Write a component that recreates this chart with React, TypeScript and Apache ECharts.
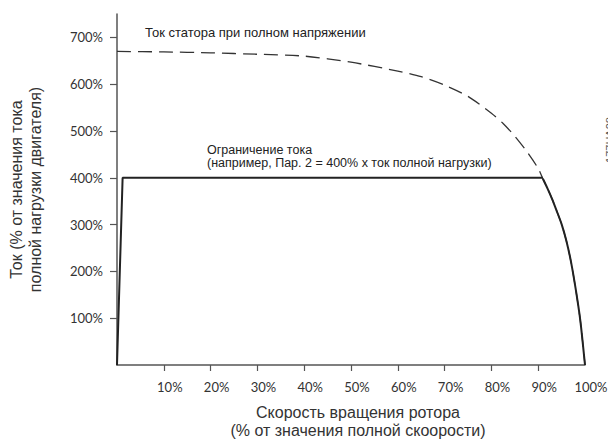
import React, { useEffect, useRef } from "react";
import * as echarts from "echarts";

const statorX = [0, 10, 20, 30, 40, 50, 60, 65, 70, 75, 80, 82.5, 85, 87.5, 90, 91, 92, 93, 94, 95, 96, 97, 98, 99, 100];
const statorY = [670, 669, 667, 664, 660, 647, 628, 616, 598, 574, 538, 516, 489, 457, 420, 398, 377, 354, 328, 301, 266, 221, 163, 95, 0];
const limitX = [0, 1.2, 91];
const limitY = [0, 400, 400];
const xTickValues = [10, 20, 30, 40, 50, 60, 70, 80, 90];
const xLabelValues = [10, 20, 30, 40, 50, 60, 70, 80, 90, 100];
const yTickValues = [100, 200, 300, 400, 500, 600, 700];

const statorLabel = "Ток статора при полном напряжении";
const limitLabel1 = "Ограничение тока";
const limitLabel2 = "(например, Пар. 2 = 400% x ток полной нагрузки)";
const xName = "Скорость вращения ротора\n(% от значения полной скоорости)";
const yName = "Ток (% от значения тока\nполной нагрузки двигателя)";
const code = "177HA28";

export default function App() {
  const ref = useRef<HTMLDivElement>(null);
  useEffect(() => {
    if (!ref.current) return;
    const chart = echarts.init(ref.current, undefined, { renderer: "svg" });
    const statorData = statorX.map((x, i) => [x, statorY[i]]);
    const limitData = limitX.map((x, i) => [x, limitY[i]]);
    const descentData = statorData.filter((p) => p[0] >= 91);
    const axisColor = "#555";
    const labelFont = { fontFamily: "Lato", fontSize: 13, color: "#333" };
    chart.setOption({
      animation: false,
      backgroundColor: "#fff",
      grid: { left: 109, right: 31, top: 6, bottom: 75, containLabel: false, outerBoundsMode: "none" },
      xAxis: {
        type: "value",
        min: 0,
        max: 100,
        interval: 10,
        name: xName,
        nameLocation: "middle",
        nameGap: 38,
        nameTextStyle: { fontFamily: "Liberation Sans", fontSize: 16, color: "#333", lineHeight: 18, padding: [0, 0, 0, 14] },
        axisLine: { show: true, lineStyle: { color: axisColor, width: 1.5 } },
        axisTick: { show: true, length: 6, customValues: xTickValues, lineStyle: { color: axisColor, width: 1.2 } },
        axisLabel: {
          customValues: xLabelValues,
          formatter: (v: number) => v + "%",
          margin: 15,
          padding: [0, 0, 0, 12],
          ...labelFont,
        },
        splitLine: { show: false },
      },
      yAxis: {
        type: "value",
        min: 0,
        max: 750,
        interval: 100,
        name: yName,
        nameLocation: "middle",
        nameGap: 72,
        nameTextStyle: { fontFamily: "Liberation Sans", fontSize: 16, color: "#333", lineHeight: 19 },
        axisLine: { show: true, lineStyle: { color: axisColor, width: 1.5 } },
        axisTick: { show: true, length: 7, customValues: yTickValues, lineStyle: { color: axisColor, width: 1.2 } },
        axisLabel: {
          customValues: yTickValues,
          formatter: (v: number) => v + "%",
          margin: 14,
          ...labelFont,
        },
        splitLine: { show: false },
      },
      series: [
        {
          type: "line",
          data: statorData,
          smooth: 0.25,
          symbol: "none",
          lineStyle: { color: "#333", width: 1.3, type: [14, 7] },
          z: 2,
        },
        {
          type: "line",
          data: limitData,
          smooth: false,
          symbol: "none",
          lineStyle: { color: "#222", width: 2 },
          z: 3,
        },
        {
          type: "line",
          data: descentData,
          smooth: 0.25,
          symbol: "none",
          lineStyle: { color: "#222", width: 2 },
          z: 3,
        },
      ],
      graphic: [
        {
          type: "text",
          left: 137,
          top: 18,
          style: { text: statorLabel, fontFamily: "Liberation Sans", fontSize: 13, fill: "#222" },
        },
        {
          type: "text",
          left: 199,
          top: 135,
          style: { text: limitLabel1 + "\n" + limitLabel2, fontFamily: "Liberation Sans", fontSize: 12.5, lineHeight: 13.5, fill: "#222" },
        },
        {
          type: "text",
          x: 602,
          y: 132,
          rotation: Math.PI / 2,
          style: { text: code, fontFamily: "Liberation Sans", fontSize: 11, fill: "#555", align: "center", verticalAlign: "middle" },
        },
      ],
    });
    return () => chart.dispose();
  }, []);
  return <div ref={ref} style={{ width: 608, height: 432 }} />;
}
